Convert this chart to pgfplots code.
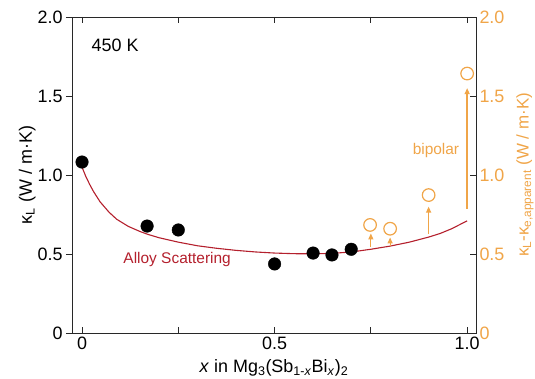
\documentclass[border=0pt]{standalone}
\usepackage{pgfplots}
\pgfplotsset{compat=1.18}
\usetikzlibrary{arrows.meta}
\usepackage{fontspec}
\setmainfont{Liberation Sans}
\definecolor{korange}{RGB}{240,165,72}
\definecolor{kred}{RGB}{180,32,45}
\definecolor{kaxis}{RGB}{40,40,40}
\begin{document}
\begin{tikzpicture}
\begin{axis}[
  name=main,
  scale only axis, width=404bp, height=316bp,
  xmin=-0.026, xmax=1.023, ymin=0, ymax=2,
  font=\fontsize{15.5}{18}\selectfont,
  ticklabel style={font=\fontsize{18}{20}\selectfont},
  label style={font=\fontsize{18}{20}\selectfont},
  axis line style={kaxis, line width=0.8bp},
  tick style={kaxis, line width=0.8bp},
  major tick length=6bp,
  xtick={0,0.25,0.5,0.75,1.0}, xticklabels={0,,0.5,,1.0},
  xtick pos=both, xtick align=inside,
  ytick={0,0.5,1.0,1.5,2.0}, yticklabels={0,0.5,1.0,1.5,2.0},
  ytick pos=left, ytick align=outside,
  ylabel={κ\textsubscript{L} (W / m·K)},
  ylabel style={at={(axis description cs:-0.111,0.5)}, anchor=center},
  xlabel={\textit{x} in Mg\textsubscript{3}(Sb\textsubscript{1-\textit{x}}Bi\textsubscript{\textit{x}})\textsubscript{2}},
  xlabel style={at={(axis description cs:0.5,-0.111)}, anchor=center},
  clip=false,
]
% alloy scattering model curve
\addplot[kred, line width=1.1bp, line join=round] coordinates {
 (0,1.05) (0.01,0.99) (0.02,0.94) (0.03,0.895) (0.047,0.83) (0.07,0.765)
 (0.09,0.72) (0.12,0.675) (0.15,0.643) (0.17,0.625) (0.2,0.603) (0.25,0.575)
 (0.3,0.552) (0.35,0.536) (0.4,0.523) (0.45,0.513) (0.5,0.506) (0.55,0.502)
 (0.6,0.501) (0.65,0.504) (0.7,0.513) (0.75,0.53) (0.8,0.55) (0.85,0.575)
 (0.9,0.607) (0.93,0.63) (0.96,0.66) (0.98,0.685) (1.0,0.71)};
% bipolar arrows
\addplot[korange, line width=1.2bp, -{Triangle[length=6bp,width=5bp]}] coordinates {(0.75,0.545) (0.75,0.63)};
\addplot[korange, line width=1.2bp, -{Triangle[length=6bp,width=5bp]}] coordinates {(0.8,0.55) (0.8,0.605)};
\addplot[korange, line width=1.2bp, -{Triangle[length=6bp,width=5bp]}] coordinates {(0.9,0.625) (0.9,0.80)};
\addplot[korange, line width=1.3bp, -{Triangle[length=6bp,width=5bp]}] coordinates {(1.0,0.785) (1.0,1.55)};
% measured kappa_L
\addplot[only marks, mark=*, mark size=6.3bp, mark options={fill=black, draw=black}] coordinates {
 (0,1.082) (0.169,0.677) (0.25,0.652) (0.5,0.437) (0.6,0.506) (0.649,0.494) (0.699,0.53)};
% apparent (open)
\addplot[only marks, mark=o, mark size=6.3bp, mark options={draw=korange, line width=1.2bp, fill=white}] coordinates {
 (0.748,0.684) (0.8,0.66) (0.9,0.873) (1.0,1.642)};
\node[anchor=center, font=\fontsize{18}{20}\selectfont] at (axis cs:0.086,1.823) {450 K};
\node[anchor=center, text=kred] at (axis cs:0.247,0.462) {Alloy Scattering};
\node[anchor=center, text=korange] at (axis cs:0.919,1.158) {bipolar};
\end{axis}
\begin{axis}[
  scale only axis, width=404bp, height=316bp,
  xmin=-0.026, xmax=1.023, ymin=0, ymax=2,
  font=\fontsize{15.5}{18}\selectfont,
  ticklabel style={font=\fontsize{18}{20}\selectfont},
  axis x line=none, axis y line*=right,
  axis line style={kaxis, line width=0.8bp},
  tick style={kaxis, line width=0.8bp},
  major tick length=6bp,
  ytick={0,0.5,1.0,1.5,2.0}, yticklabels={0,0.5,1.0,1.5,2.0},
  ytick align=inside,
  yticklabel style={text=korange},
  ylabel={\textcolor{korange}{κ\textsubscript{L}-κ\textsubscript{e,apparent} (W / m·K)}},
  ylabel style={at={(axis description cs:1.121,0.5)}, anchor=center, rotate=0, font=\fontsize{17}{19}\selectfont},
]
\end{axis}
\pgfresetboundingbox
\path[use as bounding box] ([xshift=-72bp,yshift=-46bp]main.south west) rectangle ([xshift=59bp,yshift=17bp]main.north east);
\end{tikzpicture}
\end{document}
